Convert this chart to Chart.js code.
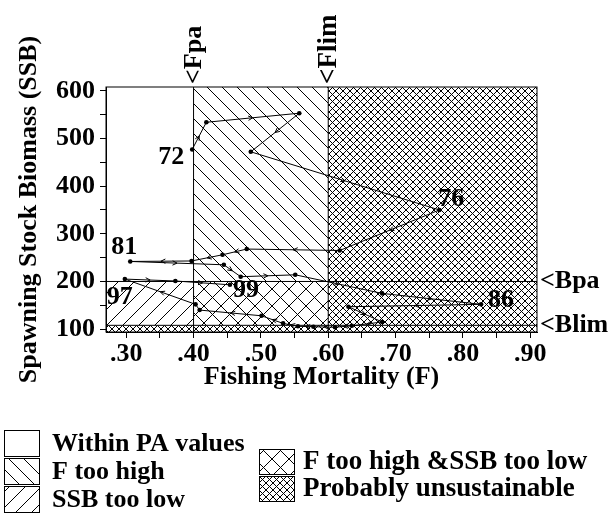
<!DOCTYPE html>
<html>
<head>
<meta charset="utf-8">
<script src="https://cdn.jsdelivr.net/npm/chart.js@4.4.1/dist/chart.umd.min.js"></script>
<style>
  html, body { margin: 0; padding: 0; background: #fff; }
  #wrap { position: relative; width: 611px; height: 514px; }
</style>
</head>
<body>
<div id="wrap"><canvas id="pa-chart" width="611" height="514"></canvas></div>
<script>
// stock trajectory, 1972-1999
const years = ['72', '73', '74', '75', '76', '77', '78', '79', '80', '81', '82', '83', '84', '85',
  '86', '87', '88', '89', '90', '91', '92', '93', '94', '95', '96', '97', '98', '99'];
const fishingMortality = [0.398, 0.419, 0.557, 0.485, 0.765, 0.617, 0.479, 0.443, 0.397, 0.306,
  0.445, 0.470, 0.551, 0.680, 0.827, 0.630, 0.680, 0.635, 0.610, 0.578, 0.555, 0.533, 0.501,
  0.409, 0.403, 0.298, 0.373, 0.454];
const ssb = [477, 534, 553, 472, 350, 265, 268, 256, 243, 242, 235, 210, 214, 175, 152, 147,
  115, 107, 104, 105, 106, 112, 128, 140, 152, 205, 201, 193];

// reference points
const fpa = 0.40, flim = 0.60;
const bpa = 200, blim = 108;

// axes
const xTicks = [0.30, 0.35, 0.40, 0.45, 0.50, 0.55, 0.60, 0.65, 0.70, 0.75, 0.80, 0.85, 0.90];
const xTickLabels = ['.30', '', '.40', '', '.50', '', '.60', '', '.70', '', '.80', '', '.90'];
const yTicks = [100, 150, 200, 250, 300, 350, 400, 450, 500, 550, 600];
const yTickLabels = ['100', '', '200', '', '300', '', '400', '', '500', '', '600'];

const labelledYears = ['72', '76', '81', '86', '97', '99'];
const zoneNames = ['Within PA values', 'F too high', 'SSB too low',
  'F too high &SSB too low', 'Probably unsustainable'];

const FONT = '"Liberation Serif", "Times New Roman", serif';
const bold = px => 'bold ' + px + 'px ' + FONT;

// year label placement relative to its point: [dx, dy, align]
const yearOffsets = {
  '72': [-8, 8, 'right'], '76': [-1, -11, 'left'], '81': [-6, -14, 'center'],
  '86': [7, -4, 'left'], '97': [-5, 18, 'center'], '99': [3, 5, 'left']
};

function hatch(ctx, size, dirs, lw) {
  const c = document.createElement('canvas');
  c.width = c.height = size;
  const g = c.getContext('2d');
  g.strokeStyle = '#000';
  g.lineWidth = lw;
  g.beginPath();
  for (const k of [-1, 0, 1]) {
    if (dirs.includes('\\')) { g.moveTo(k * size, 0); g.lineTo(k * size + size, size); }
    if (dirs.includes('/')) { g.moveTo(k * size, size); g.lineTo(k * size + size, 0); }
  }
  g.stroke();
  return ctx.createPattern(c, 'repeat');
}

let patterns = null;
function getPatterns(ctx) {
  if (!patterns) {
    patterns = {
      fHigh: hatch(ctx, 15, '\\', 1),
      ssbLow: hatch(ctx, 16, '/', 1),
      both: hatch(ctx, 17, '\\/', 1),
      unsust: hatch(ctx, 7, '\\/', 1)
    };
  }
  return patterns;
}

const zonesPlugin = {
  id: 'zones',
  beforeDatasetsDraw(chart) {
    const { ctx, chartArea: a, scales: { x, y } } = chart;
    const p = getPatterns(ctx);
    const X1 = x.getPixelForValue(fpa), X2 = x.getPixelForValue(flim);
    const Y1 = y.getPixelForValue(bpa), Y2 = y.getPixelForValue(blim);
    ctx.save();
    ctx.fillStyle = p.fHigh; ctx.fillRect(X1, a.top, X2 - X1, Y1 - a.top);
    ctx.fillStyle = p.ssbLow; ctx.fillRect(a.left, Y1, X1 - a.left, Y2 - Y1);
    ctx.fillStyle = p.both; ctx.fillRect(X1, Y1, X2 - X1, Y2 - Y1);
    ctx.fillStyle = p.unsust;
    ctx.fillRect(X2, a.top, a.right - X2, a.bottom - a.top);
    ctx.fillRect(a.left, Y2, X2 - a.left, a.bottom - Y2);
    ctx.strokeStyle = '#000';
    ctx.lineWidth = 1;
    ctx.beginPath();
    ctx.moveTo(X1, a.top); ctx.lineTo(X1, a.bottom);
    ctx.moveTo(X2, a.top); ctx.lineTo(X2, a.bottom);
    ctx.moveTo(a.left, Y1); ctx.lineTo(a.right, Y1);
    ctx.moveTo(a.left, Y2); ctx.lineTo(a.right, Y2);
    ctx.stroke();
    ctx.strokeRect(a.left, a.top, a.right - a.left, a.bottom - a.top);
    ctx.restore();
  },
  afterDatasetsDraw(chart) {
    const { ctx, chartArea: a, scales: { x, y } } = chart;
    const p = getPatterns(ctx);
    const pts = chart.getDatasetMeta(0).data;
    ctx.save();
    // direction arrows on each segment
    ctx.strokeStyle = '#000';
    ctx.lineWidth = 1;
    for (let i = 0; i < pts.length - 1; i++) {
      const dx = pts[i + 1].x - pts[i].x, dy = pts[i + 1].y - pts[i].y;
      if (Math.hypot(dx, dy) < 14) continue;
      const mx = pts[i].x + dx / 2, my = pts[i].y + dy / 2;
      const ang = Math.atan2(dy, dx);
      ctx.beginPath();
      ctx.moveTo(mx - 5 * Math.cos(ang - 0.45), my - 5 * Math.sin(ang - 0.45));
      ctx.lineTo(mx, my);
      ctx.lineTo(mx - 5 * Math.cos(ang + 0.45), my - 5 * Math.sin(ang + 0.45));
      ctx.stroke();
    }
    // year labels
    ctx.fillStyle = '#000';
    ctx.font = bold(26);
    ctx.textBaseline = 'middle';
    labelledYears.forEach(yr => {
      const pt = pts[years.indexOf(yr)];
      const [ox, oy, al] = yearOffsets[yr];
      ctx.textAlign = al;
      ctx.fillText(yr, pt.x + ox, pt.y + oy);
    });
    // reference point labels
    ctx.textAlign = 'left';
    ctx.fillText('<Bpa', a.right + 3, y.getPixelForValue(bpa));
    ctx.fillText('<Blim', a.right + 3, y.getPixelForValue(blim));
    [['<Fpa', fpa, 26], ['<Flim', flim, 27]].forEach(([t, v, fs]) => {
      ctx.save();
      ctx.font = bold(fs);
      ctx.translate(x.getPixelForValue(v) + 1, a.top - 3);
      ctx.rotate(-Math.PI / 2);
      ctx.fillText(t, 0, 0);
      ctx.restore();
    });
    // legend
    const fills = [null, p.fHigh, p.ssbLow, p.both, p.unsust];
    const boxes = [[4, 430, 35, 26], [4, 458, 35, 26], [4, 486, 35, 26], [259, 449, 35, 25], [259, 476, 35, 25]];
    const textX = [52, 52, 52, 303, 303];
    zoneNames.forEach((name, i) => {
      const [bx, by, bw, bh] = boxes[i];
      ctx.fillStyle = fills[i] || '#fff';
      ctx.fillRect(bx, by, bw, bh);
      ctx.strokeStyle = '#000';
      ctx.strokeRect(bx + 0.5, by + 0.5, bw, bh);
      ctx.fillStyle = '#000';
      ctx.textAlign = 'left';
      ctx.font = bold(i < 3 ? 26 : 27);
      ctx.fillText(name, textX[i], by + bh / 2 + 1);
    });
    ctx.restore();
  }
};

const axisCommon = {
  type: 'linear',
  grid: { display: true, drawOnChartArea: false, drawTicks: true, tickLength: 6, color: '#000' },
  border: { display: true, color: '#000', width: 1 }
};

new Chart(document.getElementById('pa-chart'), {
  type: 'scatter',
  data: {
    datasets: [{
      data: years.map((yr, i) => ({ x: fishingMortality[i], y: ssb[i] })),
      showLine: true,
      borderColor: '#000',
      borderWidth: 1,
      pointRadius: 2.3,
      pointBackgroundColor: '#000',
      pointBorderWidth: 0,
      tension: 0
    }]
  },
  options: {
    responsive: false,
    animation: false,
    layout: { padding: { left: 0, top: 87, right: 74, bottom: 121 } },
    plugins: { legend: { display: false }, tooltip: { enabled: false } },
    scales: {
      x: {
        ...axisCommon,
        min: 0.27, max: 0.91,
        afterBuildTicks: s => { s.ticks = xTicks.map(v => ({ value: v })); },
        afterFit: s => { s.height = 61; },
        ticks: {
          autoSkip: false, maxRotation: 0, padding: 1, color: '#000', font: { family: FONT, size: 26, weight: 'bold' },
          callback: (v, i) => xTickLabels[i]
        },
        title: {
          display: true, text: 'Fishing Mortality (F)', color: '#000',
          font: { family: FONT, size: 26, weight: 'bold' }, padding: { top: 0, bottom: 0 }
        }
      },
      y: {
        ...axisCommon,
        min: 94, max: 608,
        afterBuildTicks: s => { s.ticks = yTicks.map(v => ({ value: v })); },
        afterFit: s => { s.width = 106; },
        ticks: {
          autoSkip: false, padding: 5, color: '#000', font: { family: FONT, size: 26, weight: 'bold' },
          callback: (v, i) => yTickLabels[i]
        },
        title: {
          display: true, text: 'Spawning Stock Biomass (SSB)', color: '#000',
          font: { family: FONT, size: 26, weight: 'bold' }, padding: { top: 14, bottom: 0 }
        }
      }
    }
  },
  plugins: [zonesPlugin]
});
</script>
</body>
</html>
